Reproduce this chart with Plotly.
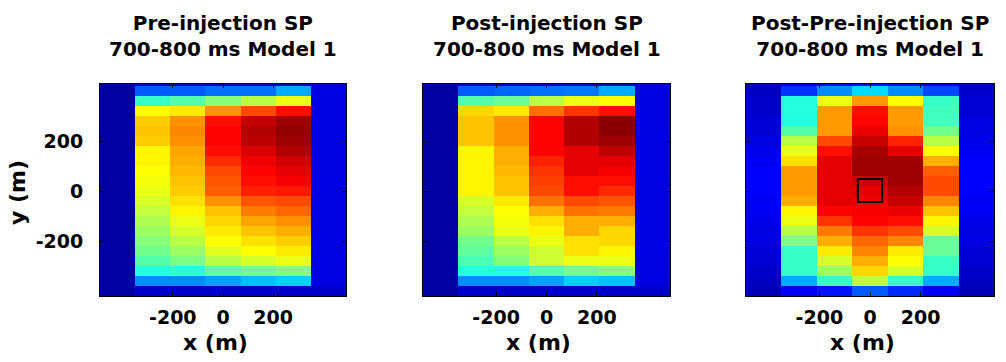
import plotly.graph_objects as go

# ---- data -------------------------------------------------------------
x_m = [-420, -280, -140, 0, 140, 280, 420]
y_m = [440, 400, 360, 320, 280, 240, 200, 160, 120, 80, 40, 0,
       -40, -80, -120, -160, -200, -240, -280, -320, -360, -400]

pre_sp = [
    [0.02, 0.04, 0.04, 0.04, 0.04, 0.04, 0.06],
    [0.02, 0.20, 0.20, 0.22, 0.22, 0.28, 0.08],
    [0.02, 0.42, 0.45, 0.50, 0.55, 0.60, 0.08],
    [0.02, 0.62, 0.64, 0.73, 0.80, 0.86, 0.08],
    [0.02, 0.67, 0.73, 0.86, 0.93, 0.97, 0.08],
    [0.02, 0.68, 0.74, 0.87, 0.95, 0.98, 0.08],
    [0.02, 0.67, 0.73, 0.87, 0.94, 0.97, 0.08],
    [0.02, 0.63, 0.71, 0.86, 0.91, 0.95, 0.08],
    [0.02, 0.63, 0.70, 0.83, 0.89, 0.92, 0.08],
    [0.02, 0.62, 0.69, 0.80, 0.87, 0.90, 0.08],
    [0.02, 0.61, 0.68, 0.79, 0.86, 0.88, 0.08],
    [0.02, 0.60, 0.67, 0.78, 0.84, 0.85, 0.08],
    [0.02, 0.58, 0.65, 0.73, 0.79, 0.80, 0.08],
    [0.02, 0.56, 0.63, 0.68, 0.75, 0.77, 0.08],
    [0.02, 0.54, 0.60, 0.66, 0.71, 0.73, 0.08],
    [0.02, 0.52, 0.58, 0.64, 0.68, 0.70, 0.08],
    [0.02, 0.50, 0.55, 0.62, 0.65, 0.67, 0.08],
    [0.02, 0.48, 0.52, 0.59, 0.62, 0.64, 0.08],
    [0.02, 0.45, 0.49, 0.55, 0.58, 0.60, 0.08],
    [0.02, 0.40, 0.41, 0.46, 0.48, 0.50, 0.08],
    [0.02, 0.25, 0.25, 0.27, 0.30, 0.32, 0.08],
    [0.02, 0.06, 0.06, 0.06, 0.06, 0.06, 0.06],
]

post_sp = [
    [0.02, 0.04, 0.04, 0.04, 0.04, 0.04, 0.06],
    [0.02, 0.20, 0.21, 0.22, 0.23, 0.28, 0.08],
    [0.02, 0.45, 0.47, 0.55, 0.60, 0.62, 0.08],
    [0.02, 0.66, 0.64, 0.76, 0.82, 0.86, 0.08],
    [0.02, 0.68, 0.73, 0.87, 0.95, 0.99, 0.08],
    [0.02, 0.68, 0.73, 0.87, 0.95, 0.99, 0.08],
    [0.02, 0.68, 0.73, 0.87, 0.95, 0.97, 0.08],
    [0.02, 0.63, 0.70, 0.87, 0.90, 0.94, 0.08],
    [0.02, 0.63, 0.70, 0.84, 0.90, 0.90, 0.08],
    [0.02, 0.63, 0.69, 0.82, 0.90, 0.88, 0.08],
    [0.02, 0.63, 0.68, 0.81, 0.86, 0.86, 0.08],
    [0.02, 0.63, 0.68, 0.80, 0.86, 0.83, 0.08],
    [0.02, 0.58, 0.64, 0.76, 0.80, 0.79, 0.08],
    [0.02, 0.56, 0.62, 0.70, 0.76, 0.75, 0.08],
    [0.02, 0.54, 0.61, 0.65, 0.70, 0.70, 0.08],
    [0.02, 0.52, 0.60, 0.63, 0.70, 0.66, 0.08],
    [0.02, 0.48, 0.55, 0.60, 0.65, 0.66, 0.08],
    [0.02, 0.46, 0.52, 0.57, 0.65, 0.63, 0.08],
    [0.02, 0.44, 0.50, 0.57, 0.60, 0.60, 0.08],
    [0.02, 0.40, 0.40, 0.45, 0.48, 0.50, 0.08],
    [0.02, 0.25, 0.25, 0.27, 0.32, 0.30, 0.08],
    [0.02, 0.06, 0.06, 0.06, 0.06, 0.06, 0.06],
]

diff_sp = [
    [0.04, 0.08, 0.10, 0.12, 0.10, 0.08, 0.04],
    [0.05, 0.16, 0.25, 0.33, 0.25, 0.18, 0.06],
    [0.06, 0.40, 0.60, 0.72, 0.62, 0.42, 0.07],
    [0.06, 0.40, 0.72, 0.86, 0.72, 0.43, 0.07],
    [0.07, 0.40, 0.72, 0.87, 0.72, 0.43, 0.08],
    [0.07, 0.45, 0.72, 0.89, 0.73, 0.48, 0.08],
    [0.08, 0.55, 0.80, 0.93, 0.84, 0.55, 0.09],
    [0.09, 0.60, 0.86, 0.96, 0.90, 0.62, 0.10],
    [0.10, 0.65, 0.90, 0.97, 0.97, 0.70, 0.11],
    [0.11, 0.72, 0.90, 0.97, 0.97, 0.78, 0.11],
    [0.11, 0.72, 0.90, 0.92, 0.97, 0.80, 0.11],
    [0.11, 0.72, 0.90, 0.90, 0.95, 0.80, 0.11],
    [0.10, 0.70, 0.90, 0.89, 0.93, 0.74, 0.10],
    [0.10, 0.63, 0.87, 0.88, 0.89, 0.68, 0.10],
    [0.09, 0.60, 0.82, 0.87, 0.86, 0.63, 0.09],
    [0.08, 0.55, 0.75, 0.82, 0.80, 0.58, 0.08],
    [0.08, 0.50, 0.70, 0.77, 0.74, 0.47, 0.08],
    [0.07, 0.42, 0.64, 0.74, 0.64, 0.47, 0.07],
    [0.07, 0.42, 0.58, 0.70, 0.62, 0.42, 0.07],
    [0.06, 0.42, 0.52, 0.66, 0.58, 0.42, 0.06],
    [0.05, 0.28, 0.42, 0.55, 0.42, 0.28, 0.05],
    [0.04, 0.10, 0.13, 0.20, 0.15, 0.10, 0.04],
]

panel_titles = ["Pre-injection SP", "Post-injection SP", "Post-Pre-injection SP"]
subtitle = "700-800 ms Model 1"
tick_vals = [-200, 0, 200]
tick_text = ["-200", "0", "200"]
x_label = "x (m)"
y_label = "y (m)"
well_box = [-48, 48, -44, 48]  # x0, x1, y0, y1 (m)

# ---- styling ----------------------------------------------------------
W, H = 1006, 362
jet = [[0.0, "rgb(0,0,143)"], [0.11, "rgb(0,0,255)"], [0.365, "rgb(0,255,255)"],
       [0.62, "rgb(255,255,0)"], [0.873, "rgb(255,0,0)"], [1.0, "rgb(128,0,0)"]]
FONT = "DejaVu Sans"

boxes_px = [(100, 346), (423, 670), (746, 994)]
top_px, bot_px = 84, 296
ydom = [1 - bot_px / H, 1 - top_px / H]

fig = go.Figure()
data_sets = [pre_sp, post_sp, diff_sp]
annotations = []
for i, (z, (l, r)) in enumerate(zip(data_sets, boxes_px)):
    k = "" if i == 0 else str(i + 1)
    fig.add_trace(go.Heatmap(x=x_m, y=y_m, z=z, colorscale=jet, zmin=0, zmax=1,
                             showscale=False, xaxis="x" + k, yaxis="y" + k,
                             hoverinfo="skip"))
    common = dict(showline=True, linecolor="black", linewidth=1, mirror="allticks",
                  ticks="inside", ticklen=4, tickcolor="black", tickwidth=1,
                  showgrid=False, zeroline=False,
                  tickvals=tick_vals, ticktext=tick_text,
                  tickfont=dict(family=FONT, size=19, color="black", weight="bold"))
    fig.layout["xaxis" + k] = dict(domain=[l / W, r / W], range=[-490, 490],
                                   anchor="y" + k, ticklabelstandoff=4, **common)
    fig.layout["yaxis" + k] = dict(domain=ydom, range=[-420, 428], anchor="x" + k,
                                   showticklabels=(i == 0), ticklabelstandoff=12,
                                   **common)
    cx = (l + r) / 2 / W
    annotations.append(dict(text=panel_titles[i] + "<br>" + subtitle, x=cx,
                            y=1 - 36 / H, xref="paper", yref="paper", showarrow=False,
                            xanchor="center", yanchor="middle", align="center",
                            font=dict(family=FONT, size=20, color="black", weight="bold")))
    annotations.append(dict(text=x_label, x=cx - 8 / W, y=1 - 342 / H, xref="paper",
                            yref="paper", showarrow=False, xanchor="center",
                            yanchor="middle",
                            font=dict(family=FONT, size=22, color="black", weight="bold")))

annotations.append(dict(text=y_label, x=17 / W, y=1 - 193 / H, xref="paper", yref="paper",
                        showarrow=False, xanchor="center", yanchor="middle", textangle=-90,
                        font=dict(family=FONT, size=22, color="black", weight="bold")))

fig.add_shape(type="rect", xref="x3", yref="y3", x0=well_box[0], x1=well_box[1],
              y0=well_box[2], y1=well_box[3], line=dict(color="black", width=2),
              fillcolor="rgba(0,0,0,0)")

fig.update_layout(width=W, height=H, margin=dict(l=0, r=0, t=0, b=0),
                  paper_bgcolor="white", plot_bgcolor="white",
                  annotations=annotations, showlegend=False)

fig.write_html("out.html")
